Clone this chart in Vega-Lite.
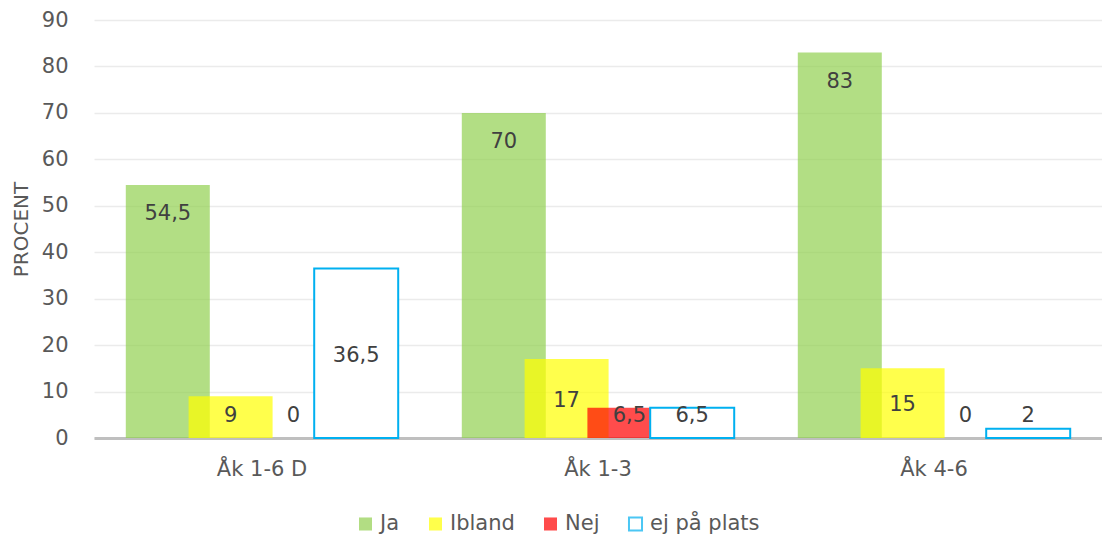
{
  "$schema": "https://vega.github.io/schema/vega-lite/v6.json",
  "width": 1102,
  "height": 541,
  "autosize": {"type": "fit", "contains": "padding"},
  "padding": {"left": 11, "top": 9, "right": 0, "bottom": 62},
  "background": "#FFFFFF",
  "data": {
    "values": [
      {"group": "Åk 1-6 D", "answer": "Ja", "value": 54.5},
      {"group": "Åk 1-6 D", "answer": "Ibland", "value": 9},
      {"group": "Åk 1-6 D", "answer": "Nej", "value": 0},
      {"group": "Åk 1-6 D", "answer": "ej på plats", "value": 36.5},
      {"group": "Åk 1-3", "answer": "Ja", "value": 70},
      {"group": "Åk 1-3", "answer": "Ibland", "value": 17},
      {"group": "Åk 1-3", "answer": "Nej", "value": 6.5},
      {"group": "Åk 1-3", "answer": "ej på plats", "value": 6.5},
      {"group": "Åk 4-6", "answer": "Ja", "value": 83},
      {"group": "Åk 4-6", "answer": "Ibland", "value": 15},
      {"group": "Åk 4-6", "answer": "Nej", "value": 0},
      {"group": "Åk 4-6", "answer": "ej på plats", "value": 2}
    ]
  },
  "transform": [
    {"calculate": "datum.answer === 'Ja' ? datum.value - 6.3 : max(datum.value / 2 - 0.5, 4.8)", "as": "labelPos"},
    {"calculate": "replace(toString(datum.value), '.', ',')", "as": "label"}
  ],
  "encoding": {
    "x": {
      "field": "group",
      "type": "nominal",
      "sort": ["Åk 1-6 D", "Åk 1-3", "Åk 4-6"],
      "scale": {"paddingInner": 0, "paddingOuter": 0},
      "axis": {
        "title": null,
        "labelAngle": 0,
        "ticks": false,
        "labelPadding": 20,
        "domainColor": "#BFBFBF",
        "domainWidth": 3,
        "labelFontSize": 21,
        "labelColor": "#595959",
        "labelFont": "DejaVu Sans",
        "grid": false
      }
    },
    "xOffset": {
      "field": "answer",
      "type": "nominal",
      "sort": ["Ja", "Ibland", "Nej", "ej på plats"],
      "scale": {"paddingInner": 0, "paddingOuter": 0.675}
    }
  },
  "layer": [
    {
      "mark": {"type": "bar", "width": 84, "strokeWidth": 2},
      "encoding": {
        "y": {
          "field": "value",
          "type": "quantitative",
          "scale": {"domain": [0, 90], "nice": false},
          "axis": {
            "title": "PROCENT",
            "values": [0, 10, 20, 30, 40, 50, 60, 70, 80, 90],
            "domain": false,
            "ticks": false,
            "labelPadding": 26,
            "labelFontSize": 21,
            "labelColor": "#595959",
            "labelFont": "DejaVu Sans",
            "titleFont": "DejaVu Sans",
            "titleFontSize": 20,
            "titleFontWeight": "normal",
            "titleColor": "#595959",
            "titlePadding": 10,
            "gridColor": "#EBEBEB",
            "gridWidth": 1.5
          }
        },
        "fill": {
          "field": "answer",
          "type": "nominal",
          "sort": ["Ja", "Ibland", "Nej", "ej på plats"],
          "scale": {"domain": ["Ja", "Ibland", "Nej", "ej på plats"], "range": ["#92D050", "#FFFF00", "#FF0000", "#FFFFFF"]},
          "legend": {"title": null, "orient": "none", "legendX": 261, "legendY": 493}
        },
        "stroke": {
          "field": "answer",
          "type": "nominal",
          "sort": ["Ja", "Ibland", "Nej", "ej på plats"],
          "scale": {"domain": ["Ja", "Ibland", "Nej", "ej på plats"], "range": ["transparent", "transparent", "transparent", "#00B0F0"]},
          "legend": {"title": null, "orient": "none", "legendX": 261, "legendY": 493}
        },
        "fillOpacity": {"condition": {"test": "datum.answer === 'ej på plats'", "value": 1}, "value": 0.7}
      }
    },
    {
      "mark": {"type": "text", "fontSize": 21, "color": "#404040", "font": "DejaVu Sans", "baseline": "middle"},
      "encoding": {
        "y": {"field": "labelPos", "type": "quantitative"},
        "text": {"field": "label"}
      }
    }
  ],
  "config": {
    "view": {"stroke": null},
    "font": "DejaVu Sans",
    "legend": {
      "direction": "horizontal",
      "symbolType": "square",
      "symbolSize": 170,
      "symbolStrokeWidth": 2,
      "symbolOpacity": 0.7,
      "labelFontSize": 21,
      "labelColor": "#595959",
      "labelFont": "DejaVu Sans",
      "columnPadding": 24,
      "padding": 0
    }
  }
}
